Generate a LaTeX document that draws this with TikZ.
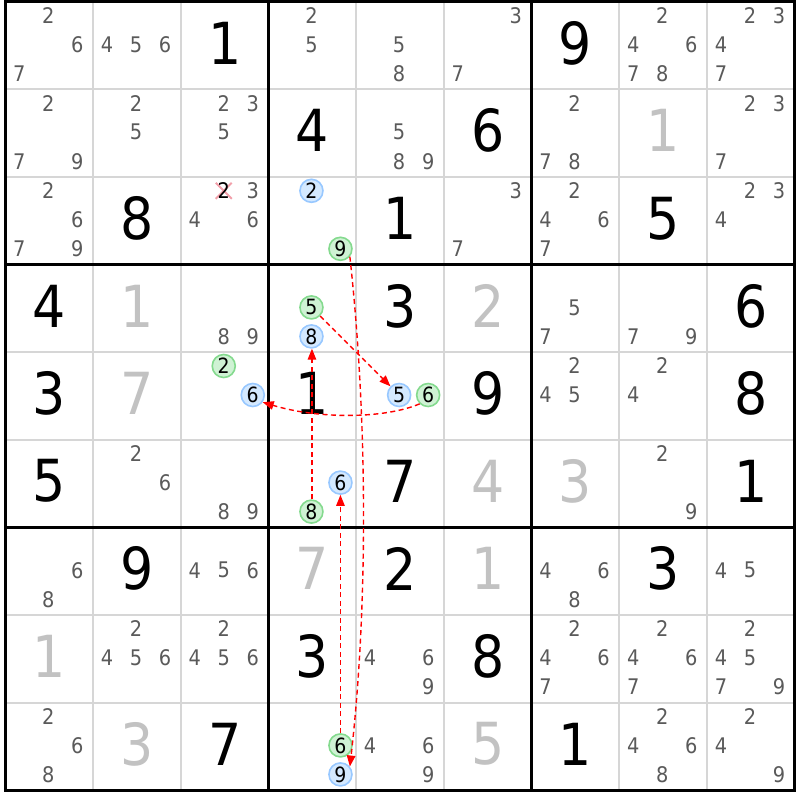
\documentclass[tikz,border=0pt]{standalone}
\usepackage{fontspec}
\setmainfont{DejaVu Sans}[FakeStretch=0.9]
\usetikzlibrary{arrows.meta}
\definecolor{candgray}{HTML}{5A5A5A}
\definecolor{solvedgray}{HTML}{C2C2C2}
\definecolor{gridgray}{HTML}{D6D6D6}
\definecolor{bluefill}{HTML}{D4E9FF}
\definecolor{blueline}{HTML}{98C8FF}
\definecolor{greenfill}{HTML}{CFF2D4}
\definecolor{greenline}{HTML}{84DA8E}
\definecolor{xpink}{HTML}{F2A0AA}
\definecolor{linkred}{HTML}{FF0000}
\newcommand\PX[1]{5.5+(#1-0.5)*87.7}
\newcommand\PY[1]{1.8+(#1-0.5)*87.6}
\newcommand\bigd[4]{\node[#1] (n#2#3) at ({\PX{#3}},{\PY{#2}-2.5}) {#4};}
\newcommand\cands[3]{\foreach \k in {#3}{\node[cand] (n#1#2-\k) at ({\PX{#2}-1+(mod(\k-1,3)-1)*29},{\PY{#1}-1+(floor((\k-1)/3)-1)*29}) {\k};}}
\newcommand\circd[5]{\node[#1] (#5) at ({\PX{#3}-1+(mod(#4-1,3)-1)*29},{\PY{#2}-1+(floor((#4-1)/3)-1)*29}) {#4};}
\begin{document}
\begin{tikzpicture}[x=1pt,y=-1pt,
  given/.style={inner sep=0pt, font=\fontsize{58}{58}\selectfont, text=black},
  solved/.style={given, text=solvedgray},
  cand/.style={inner sep=0pt, font=\fontsize{21.5}{21.5}\selectfont, text=candgray},
  bluec/.style={circle, draw=blueline, fill=bluefill, line width=1.6pt, minimum size=23pt, inner sep=0pt, font=\fontsize{21}{21}\selectfont, text=black},
  greenc/.style={bluec, draw=greenline, fill=greenfill},
  gridthin/.style={gridgray, line width=2pt},
  gridthick/.style={black, line width=3pt},
  link/.style={draw=linkred, line width=1.4pt, dash pattern=on 5pt off 3.5pt, -{Triangle[length=11pt,width=8.5pt]}},
  xmark/.style={xpink, line width=2pt}]
\useasboundingbox (0,0) rectangle (800,800);
\fill[white] (0,0) rectangle (800,800);
% grid
\foreach \i in {1,2,4,5,7,8}{
  \draw[gridthin] ({5.5+\i*87.7},1.8) -- ({5.5+\i*87.7},{1.8+9*87.6});
  \draw[gridthin] (5.5,{1.8+\i*87.6}) -- ({5.5+9*87.7},{1.8+\i*87.6});}
\foreach \i in {0,3,6,9}{
  \draw[gridthick] ({5.5+\i*87.7},0.3) -- ({5.5+\i*87.7},{3.3+9*87.6});
  \draw[gridthick] (4,{1.8+\i*87.6}) -- ({7+9*87.7},{1.8+\i*87.6});}
% row 1
\cands{1}{1}{2,6,7} \cands{1}{2}{4,5,6} \bigd{given}{1}{3}{1} \cands{1}{4}{2,5} \cands{1}{5}{5,8} \cands{1}{6}{3,7} \bigd{given}{1}{7}{9} \cands{1}{8}{2,4,6,7,8} \cands{1}{9}{2,3,4,7}
% row 2
\cands{2}{1}{2,7,9} \cands{2}{2}{2,5} \cands{2}{3}{2,3,5} \bigd{given}{2}{4}{4} \cands{2}{5}{5,8,9} \bigd{given}{2}{6}{6} \cands{2}{7}{2,7,8} \bigd{solved}{2}{8}{1} \cands{2}{9}{2,3,7}
% row 3
\cands{3}{1}{2,6,7,9} \bigd{given}{3}{2}{8}
\coordinate (xc) at ({\PX{3}-1},{\PY{3}-1-29});
\draw[xmark] (xc) ++(-8,-8) -- ++(16,16) ++(0,-16) -- ++(-16,16);
\node[cand, text=black] (n33-2) at (xc) {2};
\cands{3}{3}{3,4,6}
\circd{bluec}{3}{4}{2}{b34} \circd{greenc}{3}{4}{9}{g34}
\bigd{given}{3}{5}{1} \cands{3}{6}{3,7} \cands{3}{7}{2,4,6,7} \bigd{given}{3}{8}{5} \cands{3}{9}{2,3,4}
% row 4
\bigd{given}{4}{1}{4} \bigd{solved}{4}{2}{1} \cands{4}{3}{8,9}
\circd{greenc}{4}{4}{5}{g44} \circd{bluec}{4}{4}{8}{b44}
\bigd{given}{4}{5}{3} \bigd{solved}{4}{6}{2} \cands{4}{7}{5,7} \cands{4}{8}{7,9} \bigd{given}{4}{9}{6}
% row 5
\bigd{given}{5}{1}{3} \bigd{solved}{5}{2}{7}
\circd{greenc}{5}{3}{2}{g53} \circd{bluec}{5}{3}{6}{b53}
\bigd{given}{5}{4}{1}
\circd{bluec}{5}{5}{5}{b55} \circd{greenc}{5}{5}{6}{g55}
\bigd{given}{5}{6}{9} \cands{5}{7}{2,4,5} \cands{5}{8}{2,4} \bigd{given}{5}{9}{8}
% row 6
\bigd{given}{6}{1}{5} \cands{6}{2}{2,6} \cands{6}{3}{8,9}
\circd{bluec}{6}{4}{6}{b64} \circd{greenc}{6}{4}{8}{g64}
\bigd{given}{6}{5}{7} \bigd{solved}{6}{6}{4} \bigd{solved}{6}{7}{3} \cands{6}{8}{2,9} \bigd{given}{6}{9}{1}
% row 7
\cands{7}{1}{6,8} \bigd{given}{7}{2}{9} \cands{7}{3}{4,5,6} \bigd{solved}{7}{4}{7} \bigd{given}{7}{5}{2} \bigd{solved}{7}{6}{1} \cands{7}{7}{4,6,8} \bigd{given}{7}{8}{3} \cands{7}{9}{4,5}
% row 8
\bigd{solved}{8}{1}{1} \cands{8}{2}{2,4,5,6} \cands{8}{3}{2,4,5,6} \bigd{given}{8}{4}{3} \cands{8}{5}{4,6,9} \bigd{given}{8}{6}{8} \cands{8}{7}{2,4,6,7} \cands{8}{8}{2,4,6,7} \cands{8}{9}{2,4,5,7,9}
% row 9
\cands{9}{1}{2,6,8} \bigd{solved}{9}{2}{3} \bigd{given}{9}{3}{7}
\circd{greenc}{9}{4}{6}{g94} \circd{bluec}{9}{4}{9}{b94}
\cands{9}{5}{4,6,9} \bigd{solved}{9}{6}{5} \bigd{given}{9}{7}{1} \cands{9}{8}{2,4,6,8} \cands{9}{9}{2,4,9}
% links
\draw[link] (g34.-40) .. controls +(18,164) and +(18,-158) .. (b94.40);
\draw[link] (g44) -- (b55);
\draw[link] (g55.-134) .. controls +(-35,15) and +(56,17) .. (b53.-36);
\draw[link, transform canvas={xshift=0.5pt}] (g64.north) -- (b44.south);
\draw[link] (g94.north) -- (b64.south);
\end{tikzpicture}
\end{document}
